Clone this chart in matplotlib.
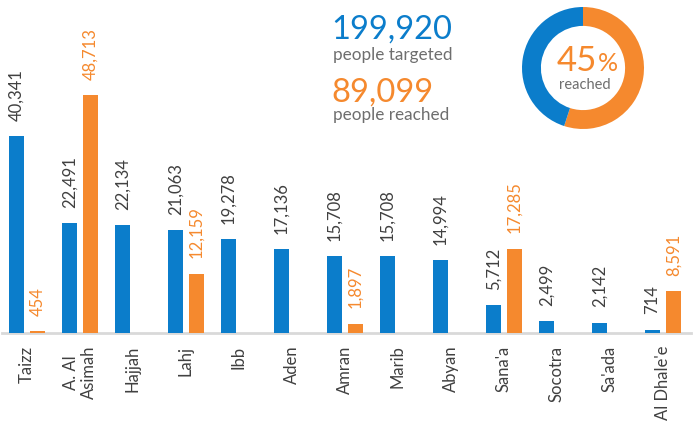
import matplotlib
matplotlib.use("Agg")
import matplotlib.pyplot as plt
import numpy as np

plt.rcParams['font.family'] = ['Lato', 'DejaVu Sans']

categories = ["Taizz", "A. Al\nAsimah", "Hajjah", "Lahj", "Ibb", "Aden", "Amran",
              "Marib", "Abyan", "Sana'a", "Socotra", "Sa'ada", "Al Dhale'e"]
targeted = [40341, 22491, 22134, 21063, 19278, 17136, 15708, 15708, 14994, 5712, 2499, 2142, 714]
reached = [454, 48713, None, 12159, None, None, 1897, None, None, 17285, None, None, 8591]

total_targeted = "199,920"
total_reached = "89,099"
pct_reached = "45"
donut_shares = [55, 45]  # orange, blue as drawn

BLUE = "#0B7DCB"
ORANGE = "#F5892E"
GRAY = "#404040"
LGRAY = "#6E6E6E"

W, H = 693, 423
fig = plt.figure(figsize=(W / 100, H / 100), dpi=100)

def fx(px):
    return px / W

def fy(py):
    return 1 - py / H

base = 333
ax = fig.add_axes([fx(2), fy(base), fx(689), base / H])
ax.set_xlim(-0.472, 12.53)
ax.set_ylim(0, 68240)

x = np.arange(len(categories))
off = 0.198
bw = 0.283
ax.bar(x - off, targeted, width=bw, color=BLUE, zorder=3)
rx = [xi + off for xi, v in zip(x, reached) if v is not None]
rv = [v for v in reached if v is not None]
ax.bar(rx, rv, width=bw, color=ORANGE, zorder=3)

for xi, v in zip(x, targeted):
    ax.annotate(f"{v:,}", (xi - off, v), xytext=(0, 11), textcoords="offset points",
                rotation=90, ha="center", va="bottom", fontsize=12, color=GRAY)
for xi, v in zip(rx, rv):
    ax.annotate(f"{v:,}", (xi, v), xytext=(0, 11), textcoords="offset points",
                rotation=90, ha="center", va="bottom", fontsize=12, color=ORANGE)

for s in ["top", "right", "left"]:
    ax.spines[s].set_visible(False)
ax.spines["bottom"].set_color("#D9D9D9")
ax.spines["bottom"].set_linewidth(2)
ax.spines["bottom"].set_zorder(1)
ax.set_yticks([])
ax.set_xticks(x)
ax.set_xticklabels(categories, rotation=90, fontsize=12, color=GRAY,
                   va="top", ha="center", linespacing=1.15)
ax.tick_params(axis="x", length=0, pad=9)
ax.patch.set_alpha(0)

# headline numbers
fig.text(fx(331), fy(39), total_targeted, fontsize=23.5, color=BLUE, ha="left", va="baseline")
fig.text(fx(333), fy(60), "people targeted", fontsize=12.3, color=LGRAY, ha="left", va="baseline")
fig.text(fx(331), fy(102), total_reached, fontsize=23.5, color=ORANGE, ha="left", va="baseline")
fig.text(fx(333), fy(120), "people reached", fontsize=12.3, color=LGRAY, ha="left", va="baseline")

# donut
cx, cy, r = 583, 68, 61
dax = fig.add_axes([fx(cx - r), fy(cy + r), (2 * r) / W, (2 * r) / H])
dax.pie(donut_shares, colors=[ORANGE, BLUE], startangle=90, counterclock=False,
        radius=1.0, wedgeprops=dict(width=0.31, linewidth=0))
dax.set_xlim(-1, 1)
dax.set_ylim(-1, 1)
dax.set_aspect("auto")
dax.axis("off")

fig.text(fx(597), fy(71), pct_reached, fontsize=25, color=ORANGE, ha="right", va="baseline")
fig.text(fx(598), fy(71), "%", fontsize=18, color=ORANGE, ha="left", va="baseline")
fig.text(fx(585), fy(89), "reached", fontsize=10.5, color=LGRAY, ha="center", va="baseline")

fig.savefig("out.png", dpi=100)
